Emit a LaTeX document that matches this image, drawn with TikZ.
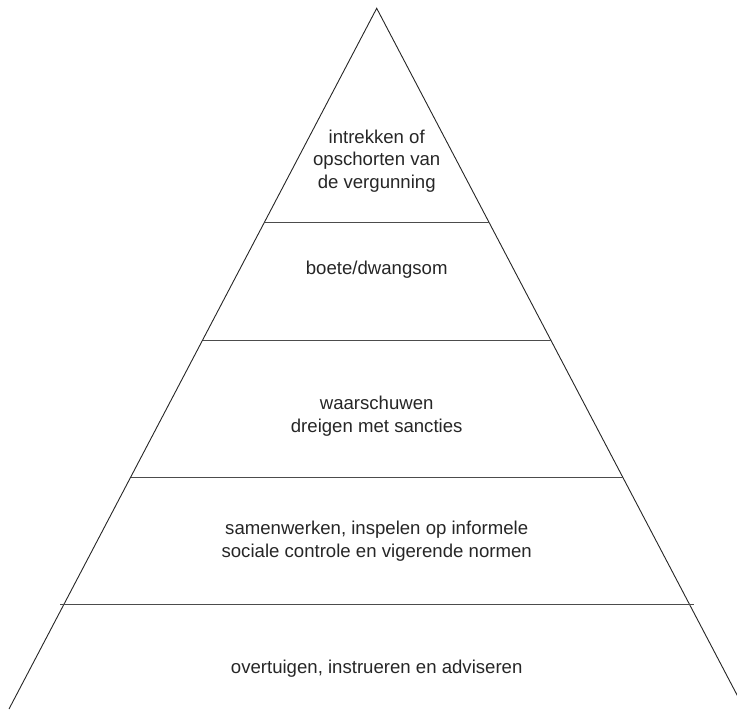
\documentclass[tikz,border=0pt]{standalone}
\usepackage{fontspec}
\setmainfont{Liberation Sans}
\usepackage{tikz}
\usetikzlibrary{positioning}
\tikzset{
	x=1pt, y=-1pt, % pixel units, y down
	side/.style={draw=black!85, line width=0.9pt},
	rung/.style={draw=black!70, line width=1pt},
	layer/.style={align=center, text=black!85, inner sep=0pt, font=\fontsize{18.6}{22.5}\selectfont},
}
\begin{document}
\begin{tikzpicture}
      \useasboundingbox (0,0) rectangle (737,710);
      \coordinate (apex) at (376.7,8.3);
      \coordinate (bl) at (9,709);
      \coordinate (br) at (744.4,709);

      \draw[side] (bl) -- (apex) -- (br);

      % rungs between the layers
      \coordinate (r1l) at (264.6,222); \coordinate (r1r) at (488.8,222);
      \coordinate (r2l) at (202.6,340); \coordinate (r2r) at (550.8,340);
      \coordinate (r3l) at (130.7,477); \coordinate (r3r) at (622.7,477);
      \coordinate (r4l) at (60,604);    \coordinate (r4r) at (694,604);
      \draw[rung] (r1l) -- (r1r);
      \draw[rung] (r2l) -- (r2r);
      \draw[rung] (r3l) -- (r3r);
      \draw[rung] (r4l) -- (r4r);

      \node[layer] (top)  at (376.7,161) {intrekken of\\opschorten van\\de vergunning};
      \node[layer] (fine) at (376.7,270) {boete/dwangsom};
      \node[layer] (warn) at (376.7,416) {waarschuwen\\dreigen met sancties};
      \node[layer] (coop) at (376.7,541) {samenwerken, inspelen op informele\\sociale controle en vigerende normen};
      \node[layer] (base) at (376.7,669) {overtuigen, instrueren en adviseren};
\end{tikzpicture}
\end{document}
